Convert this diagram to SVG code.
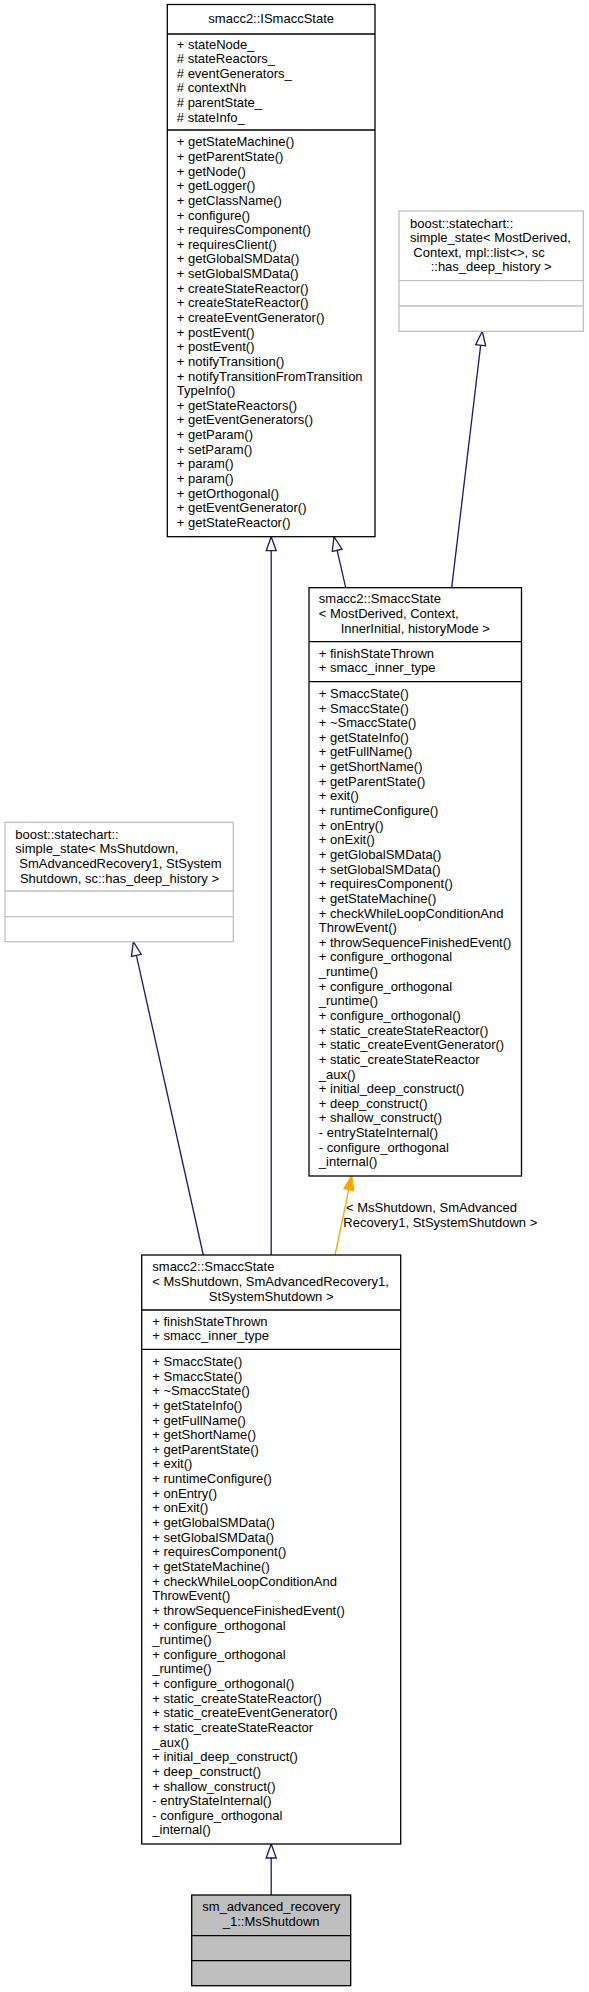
<svg xmlns="http://www.w3.org/2000/svg" width="589" height="1992" viewBox="0 0 589 1992">
<style>
.t { font-family: "Liberation Sans", Arial, Helvetica, sans-serif; font-size: 13px; fill: #000; }
.c { text-anchor: middle; }
.box { fill: #fff; stroke: #000; stroke-width: 1.3; }
.gbox { fill: #fff; stroke: #bfbfbf; stroke-width: 1.3; }
.fbox { fill: #bfbfbf; stroke: #000; stroke-width: 1.3; }
.sep { stroke: #000; stroke-width: 1.3; }
.gsep { stroke: #bfbfbf; stroke-width: 1.3; }
.edge { stroke: #191970; stroke-width: 1.3; fill: none; }
.tedge { stroke: #ffa500; stroke-width: 1.3; fill: none; }
</style>
<defs>
<marker id="open" markerUnits="userSpaceOnUse" viewBox="-1 -1 16 12" refX="14" refY="5" markerWidth="16" markerHeight="12" orient="auto" overflow="visible">
<path d="M0,0 L14,5 L0,10 Z" fill="#fff" stroke="#191970" stroke-width="1.3"/>
</marker>
<marker id="filled" markerUnits="userSpaceOnUse" viewBox="-1 -1 16 12" refX="14" refY="5" markerWidth="16" markerHeight="12" orient="auto" overflow="visible">
<path d="M0,0 L14,5 L0,10 Z" fill="#ffa500" stroke="#ffa500" stroke-width="1.3"/>
</marker>
</defs>
<rect width="589" height="1992" fill="#fff"/>

<g id="connectors">
<line class="edge" x1="271.2" y1="1255" x2="271.2" y2="536.7" marker-end="url(#open)"/>
<line class="edge" x1="345.7" y1="587.7" x2="334" y2="536.7" marker-end="url(#open)"/>
<line class="edge" x1="451.7" y1="587.7" x2="482.3" y2="331.3" marker-end="url(#open)"/>
<line class="edge" x1="203.3" y1="1255" x2="133.3" y2="941.7" marker-end="url(#open)"/>
<line class="tedge" x1="335" y1="1255" x2="351.7" y2="1176" marker-end="url(#filled)"/>
<line class="edge" x1="271.2" y1="1895" x2="271.2" y2="1844" marker-end="url(#open)"/>
<text class="t" x="346" y="1211.7">&lt; MsShutdown, SmAdvanced</text>
<text class="t" x="343.3" y="1226.7">Recovery1, StSystemShutdown &gt;</text>
</g>

<g id="ismaccstate">
<rect class="box" x="167.3" y="4.5" width="207.7" height="532.2"/>
<line class="sep" x1="167.3" y1="34" x2="375" y2="34"/>
<line class="sep" x1="167.3" y1="130" x2="375" y2="130"/>
<text class="t c" x="271.2" y="22.6">smacc2::ISmaccState</text>
<text class="t" y="48.5">
<tspan x="176.8" dy="0">+ stateNode_</tspan>
<tspan x="176.8" dy="14.64"># stateReactors_</tspan>
<tspan x="176.8" dy="14.64"># eventGenerators_</tspan>
<tspan x="176.8" dy="14.64"># contextNh</tspan>
<tspan x="176.8" dy="14.64"># parentState_</tspan>
<tspan x="176.8" dy="14.64"># stateInfo_</tspan>
</text>
<text class="t" y="146.3">
<tspan x="176.8" dy="0">+ getStateMachine()</tspan>
<tspan x="176.8" dy="14.64">+ getParentState()</tspan>
<tspan x="176.8" dy="14.64">+ getNode()</tspan>
<tspan x="176.8" dy="14.64">+ getLogger()</tspan>
<tspan x="176.8" dy="14.64">+ getClassName()</tspan>
<tspan x="176.8" dy="14.64">+ configure()</tspan>
<tspan x="176.8" dy="14.64">+ requiresComponent()</tspan>
<tspan x="176.8" dy="14.64">+ requiresClient()</tspan>
<tspan x="176.8" dy="14.64">+ getGlobalSMData()</tspan>
<tspan x="176.8" dy="14.64">+ setGlobalSMData()</tspan>
<tspan x="176.8" dy="14.64">+ createStateReactor()</tspan>
<tspan x="176.8" dy="14.64">+ createStateReactor()</tspan>
<tspan x="176.8" dy="14.64">+ createEventGenerator()</tspan>
<tspan x="176.8" dy="14.64">+ postEvent()</tspan>
<tspan x="176.8" dy="14.64">+ postEvent()</tspan>
<tspan x="176.8" dy="14.64">+ notifyTransition()</tspan>
<tspan x="176.8" dy="14.64">+ notifyTransitionFromTransition</tspan>
<tspan x="176.8" dy="14.64">TypeInfo()</tspan>
<tspan x="176.8" dy="14.64">+ getStateReactors()</tspan>
<tspan x="176.8" dy="14.64">+ getEventGenerators()</tspan>
<tspan x="176.8" dy="14.64">+ getParam()</tspan>
<tspan x="176.8" dy="14.64">+ setParam()</tspan>
<tspan x="176.8" dy="14.64">+ param()</tspan>
<tspan x="176.8" dy="14.64">+ param()</tspan>
<tspan x="176.8" dy="14.64">+ getOrthogonal()</tspan>
<tspan x="176.8" dy="14.64">+ getEventGenerator()</tspan>
<tspan x="176.8" dy="14.64">+ getStateReactor()</tspan>
</text>
</g>

<g id="simple_state_generic">
<rect class="gbox" x="399" y="211" width="184.3" height="120.3"/>
<line class="gsep" x1="399" y1="280.7" x2="583.3" y2="280.7"/>
<line class="gsep" x1="399" y1="306" x2="583.3" y2="306"/>
<text class="t" x="410" y="227.5">boost::statechart::</text>
<text class="t" x="410" y="242.1">simple_state&lt; MostDerived,</text>
<text class="t" x="413.3" y="256.8">Context, mpl::list&lt;&gt;, sc</text>
<text class="t c" x="491.2" y="271.4">::has_deep_history &gt;</text>
</g>

<g id="smaccstate_template">
<rect class="box" x="309" y="587.7" width="212.5" height="588.3"/>
<line class="sep" x1="309" y1="641.7" x2="521.5" y2="641.7"/>
<line class="sep" x1="309" y1="681.7" x2="521.5" y2="681.7"/>
<text class="t" x="318.8" y="603.3">smacc2::SmaccState</text>
<text class="t" x="318.8" y="617.9">&lt; MostDerived, Context,</text>
<text class="t c" x="415.3" y="632.6">InnerInitial, historyMode &gt;</text>
<text class="t" x="318.8" y="657.6">+ finishStateThrown</text>
<text class="t" x="318.8" y="672.2">+ smacc_inner_type</text>
<text class="t" y="697.9">
<tspan x="318.8" dy="0">+ SmaccState()</tspan>
<tspan x="318.8" dy="14.64">+ SmaccState()</tspan>
<tspan x="318.8" dy="14.64">+ ~SmaccState()</tspan>
<tspan x="318.8" dy="14.64">+ getStateInfo()</tspan>
<tspan x="318.8" dy="14.64">+ getFullName()</tspan>
<tspan x="318.8" dy="14.64">+ getShortName()</tspan>
<tspan x="318.8" dy="14.64">+ getParentState()</tspan>
<tspan x="318.8" dy="14.64">+ exit()</tspan>
<tspan x="318.8" dy="14.64">+ runtimeConfigure()</tspan>
<tspan x="318.8" dy="14.64">+ onEntry()</tspan>
<tspan x="318.8" dy="14.64">+ onExit()</tspan>
<tspan x="318.8" dy="14.64">+ getGlobalSMData()</tspan>
<tspan x="318.8" dy="14.64">+ setGlobalSMData()</tspan>
<tspan x="318.8" dy="14.64">+ requiresComponent()</tspan>
<tspan x="318.8" dy="14.64">+ getStateMachine()</tspan>
<tspan x="318.8" dy="14.64">+ checkWhileLoopConditionAnd</tspan>
<tspan x="318.8" dy="14.64">ThrowEvent()</tspan>
<tspan x="318.8" dy="14.64">+ throwSequenceFinishedEvent()</tspan>
<tspan x="318.8" dy="14.64">+ configure_orthogonal</tspan>
<tspan x="318.8" dy="14.64">_runtime()</tspan>
<tspan x="318.8" dy="14.64">+ configure_orthogonal</tspan>
<tspan x="318.8" dy="14.64">_runtime()</tspan>
<tspan x="318.8" dy="14.64">+ configure_orthogonal()</tspan>
<tspan x="318.8" dy="14.64">+ static_createStateReactor()</tspan>
<tspan x="318.8" dy="14.64">+ static_createEventGenerator()</tspan>
<tspan x="318.8" dy="14.64">+ static_createStateReactor</tspan>
<tspan x="318.8" dy="14.64">_aux()</tspan>
<tspan x="318.8" dy="14.64">+ initial_deep_construct()</tspan>
<tspan x="318.8" dy="14.64">+ deep_construct()</tspan>
<tspan x="318.8" dy="14.64">+ shallow_construct()</tspan>
<tspan x="318.8" dy="14.64">- entryStateInternal()</tspan>
<tspan x="318.8" dy="14.64">- configure_orthogonal</tspan>
<tspan x="318.8" dy="14.64">_internal()</tspan>
</text>
</g>

<g id="simple_state_msshutdown">
<rect class="gbox" x="5" y="822.3" width="228.3" height="119.4"/>
<line class="gsep" x1="5" y1="891" x2="233.3" y2="891"/>
<line class="gsep" x1="5" y1="916.7" x2="233.3" y2="916.7"/>
<text class="t" x="15.3" y="838.8">boost::statechart::</text>
<text class="t" x="15.3" y="853.4">simple_state&lt; MsShutdown,</text>
<text class="t" x="19.3" y="868.1">SmAdvancedRecovery1, StSystem</text>
<text class="t c" x="119.5" y="882.7">Shutdown, sc::has_deep_history &gt;</text>
</g>

<g id="smaccstate_msshutdown">
<rect class="box" x="141.7" y="1255" width="259" height="589"/>
<line class="sep" x1="141.7" y1="1310" x2="400.7" y2="1310"/>
<line class="sep" x1="141.7" y1="1349.3" x2="400.7" y2="1349.3"/>
<text class="t" x="152.3" y="1271.2">smacc2::SmaccState</text>
<text class="t" x="152.3" y="1285.8">&lt; MsShutdown, SmAdvancedRecovery1,</text>
<text class="t c" x="271.2" y="1300.5">StSystemShutdown &gt;</text>
<text class="t" x="152.3" y="1325.6">+ finishStateThrown</text>
<text class="t" x="152.3" y="1340.2">+ smacc_inner_type</text>
<text class="t" y="1366">
<tspan x="152.3" dy="0">+ SmaccState()</tspan>
<tspan x="152.3" dy="14.64">+ SmaccState()</tspan>
<tspan x="152.3" dy="14.64">+ ~SmaccState()</tspan>
<tspan x="152.3" dy="14.64">+ getStateInfo()</tspan>
<tspan x="152.3" dy="14.64">+ getFullName()</tspan>
<tspan x="152.3" dy="14.64">+ getShortName()</tspan>
<tspan x="152.3" dy="14.64">+ getParentState()</tspan>
<tspan x="152.3" dy="14.64">+ exit()</tspan>
<tspan x="152.3" dy="14.64">+ runtimeConfigure()</tspan>
<tspan x="152.3" dy="14.64">+ onEntry()</tspan>
<tspan x="152.3" dy="14.64">+ onExit()</tspan>
<tspan x="152.3" dy="14.64">+ getGlobalSMData()</tspan>
<tspan x="152.3" dy="14.64">+ setGlobalSMData()</tspan>
<tspan x="152.3" dy="14.64">+ requiresComponent()</tspan>
<tspan x="152.3" dy="14.64">+ getStateMachine()</tspan>
<tspan x="152.3" dy="14.64">+ checkWhileLoopConditionAnd</tspan>
<tspan x="152.3" dy="14.64">ThrowEvent()</tspan>
<tspan x="152.3" dy="14.64">+ throwSequenceFinishedEvent()</tspan>
<tspan x="152.3" dy="14.64">+ configure_orthogonal</tspan>
<tspan x="152.3" dy="14.64">_runtime()</tspan>
<tspan x="152.3" dy="14.64">+ configure_orthogonal</tspan>
<tspan x="152.3" dy="14.64">_runtime()</tspan>
<tspan x="152.3" dy="14.64">+ configure_orthogonal()</tspan>
<tspan x="152.3" dy="14.64">+ static_createStateReactor()</tspan>
<tspan x="152.3" dy="14.64">+ static_createEventGenerator()</tspan>
<tspan x="152.3" dy="14.64">+ static_createStateReactor</tspan>
<tspan x="152.3" dy="14.64">_aux()</tspan>
<tspan x="152.3" dy="14.64">+ initial_deep_construct()</tspan>
<tspan x="152.3" dy="14.64">+ deep_construct()</tspan>
<tspan x="152.3" dy="14.64">+ shallow_construct()</tspan>
<tspan x="152.3" dy="14.64">- entryStateInternal()</tspan>
<tspan x="152.3" dy="14.64">- configure_orthogonal</tspan>
<tspan x="152.3" dy="14.64">_internal()</tspan>
</text>
</g>

<g id="msshutdown">
<rect class="fbox" x="191.7" y="1895" width="159" height="90.7"/>
<line class="sep" x1="191.7" y1="1935.7" x2="350.7" y2="1935.7"/>
<line class="sep" x1="191.7" y1="1960.7" x2="350.7" y2="1960.7"/>
<text class="t" x="202.3" y="1911.3">sm_advanced_recovery</text>
<text class="t c" x="271.2" y="1925.9">_1::MsShutdown</text>
</g>
</svg>
